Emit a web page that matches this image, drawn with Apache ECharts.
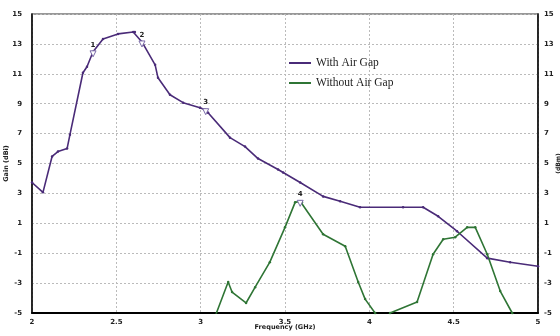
<!DOCTYPE html>
<html><head><meta charset="utf-8">
<script src="https://cdn.jsdelivr.net/npm/echarts@6/dist/echarts.min.js"></script>
<style>html,body{margin:0;padding:0;background:#fff}#c{width:560px;height:336px}</style>
</head><body><div id="c"></div>
<script>
const seriesNames = ["With Air Gap", "Without Air Gap"];
const withGapFreq = [2.0, 2.065, 2.119, 2.154, 2.208, 2.225, 2.302, 2.326, 2.362, 2.421, 2.51, 2.6, 2.61, 2.652, 2.73, 2.747, 2.818, 2.896, 2.996, 3.026, 3.044, 3.174, 3.263, 3.34, 3.459, 3.489, 3.59, 3.726, 3.827, 3.945, 4.2, 4.319, 4.408, 4.52, 4.699, 4.835, 5.0];
const withGapGain = [3.73, 3.07, 5.47, 5.8, 6.0, 6.93, 11.07, 11.47, 12.47, 13.33, 13.67, 13.8, 13.8, 13.13, 11.6, 10.73, 9.6, 9.07, 8.73, 8.6, 8.4, 6.73, 6.13, 5.33, 4.6, 4.4, 3.73, 2.8, 2.47, 2.07, 2.07, 2.07, 1.47, 0.47, -1.33, -1.6, -1.87];
const noGapFreq = [3.08, 3.163, 3.186, 3.269, 3.323, 3.41, 3.5, 3.56, 3.59, 3.6, 3.726, 3.857, 3.934, 3.975, 4.034, 4.08, 4.123, 4.283, 4.378, 4.438, 4.509, 4.58, 4.628, 4.699, 4.776, 4.847, 4.9];
const noGapGain = [-5.4, -2.93, -3.6, -4.33, -3.27, -1.6, 0.73, 2.4, 2.47, 2.4, 0.27, -0.53, -2.93, -4.07, -5.0, -5.8, -5.0, -4.27, -1.07, -0.07, 0.07, 0.73, 0.73, -1.07, -3.53, -5.0, -6.0];
const markerLabels = ["1", "2", "3", "4"];
const markerFreq = [2.362, 2.652, 3.03, 3.59];
const markerGain = [12.47, 13.13, 8.6, 2.47];
const xTicks = [2, 2.5, 3, 3.5, 4, 4.5, 5];
const yTicks = [-5, -3, -1, 1, 3, 5, 7, 9, 11, 13, 15];

const purple = '#4a2b78';
const green = '#2f7535';
const zip = (a, b) => a.map((v, i) => [v, b[i]]);
const marks = markerLabels.map((l, i) => ({
  coord: [markerFreq[i], markerGain[i]], value: l
}));
const axisLabelStyle = {fontFamily: 'DejaVu Sans', fontSize: 7, fontWeight: 'bold', color: '#222'};

const chart = echarts.init(document.getElementById('c'), null, {renderer: 'canvas'});
chart.setOption({
  animation: false,
  backgroundColor: '#fff',
  grid: {left: 32, right: 22, top: 14, bottom: 23, containLabel: false, outerBoundsMode: 'none',
    show: true, borderColor: '#777', borderWidth: 1.5},
  legend: {
    data: seriesNames, orient: 'vertical', left: 284, top: 52, itemGap: 8,
    itemWidth: 22, itemHeight: 2, icon: 'rect',
    textStyle: {fontFamily: 'Liberation Serif', fontSize: 11.5, color: '#222'}
  },
  xAxis: {
    type: 'value', min: xTicks[0], max: xTicks[xTicks.length - 1], interval: 0.5,
    name: 'Frequency (GHz)', nameLocation: 'middle', nameGap: 11, nameMoveOverlap: false,
    nameTextStyle: {fontFamily: 'DejaVu Sans', fontSize: 6.5, fontWeight: 'bold', color: '#222'},
    axisLine: {onZero: false, lineStyle: {color: '#000', width: 2}},
    axisTick: {show: false},
    axisLabel: Object.assign({margin: 6}, axisLabelStyle),
    splitLine: {show: true, lineStyle: {color: '#bbb', type: [2, 2], width: 1}}
  },
  yAxis: [{
    type: 'value', min: -5, max: 15, interval: 2,
    name: 'Gain (dBi)', nameLocation: 'middle', nameGap: 22, nameRotate: 90, nameMoveOverlap: false,
    nameTextStyle: {fontFamily: 'DejaVu Sans', fontSize: 6.5, fontWeight: 'bold', color: '#222'},
    axisLine: {show: true, onZero: false, lineStyle: {color: '#000', width: 1.5}},
    axisTick: {show: false},
    axisLabel: Object.assign({margin: 10}, axisLabelStyle),
    splitLine: {show: true, lineStyle: {color: '#bbb', type: [2, 2], width: 1}}
  }, {
    type: 'value', min: -5, max: 15, interval: 2, position: 'right',
    name: '(dBm)', nameLocation: 'middle', nameGap: 17, nameRotate: 90, nameMoveOverlap: false,
    nameTextStyle: {fontFamily: 'DejaVu Sans', fontSize: 6, fontWeight: 'bold', color: '#222'},
    axisLine: {show: true, onZero: false, lineStyle: {color: '#000', width: 1.5}},
    axisTick: {show: false},
    axisLabel: Object.assign({margin: 6}, axisLabelStyle),
    splitLine: {show: false}
  }],
  series: [{
    name: seriesNames[0], type: 'line', data: zip(withGapFreq, withGapGain),
    symbol: 'circle', symbolSize: 2.5, showSymbol: true,
    lineStyle: {color: purple, width: 1.6}, itemStyle: {color: purple},
    markPoint: {
      data: marks, symbol: 'triangle', symbolRotate: 180, symbolSize: 6, symbolOffset: [0, 2],
      itemStyle: {color: '#fff', borderColor: '#7a6aa8', borderWidth: 1},
      label: {show: true, position: 'top', distance: 2, formatter: p => p.value,
        fontFamily: 'DejaVu Sans', fontSize: 7, fontWeight: 'bold', color: '#222'}
    }
  }, {
    name: seriesNames[1], type: 'line', data: zip(noGapFreq, noGapGain), clip: true,
    symbol: 'circle', symbolSize: 2.5, showSymbol: true,
    lineStyle: {color: green, width: 1.6}, itemStyle: {color: green}
  }]
});
</script></body></html>
